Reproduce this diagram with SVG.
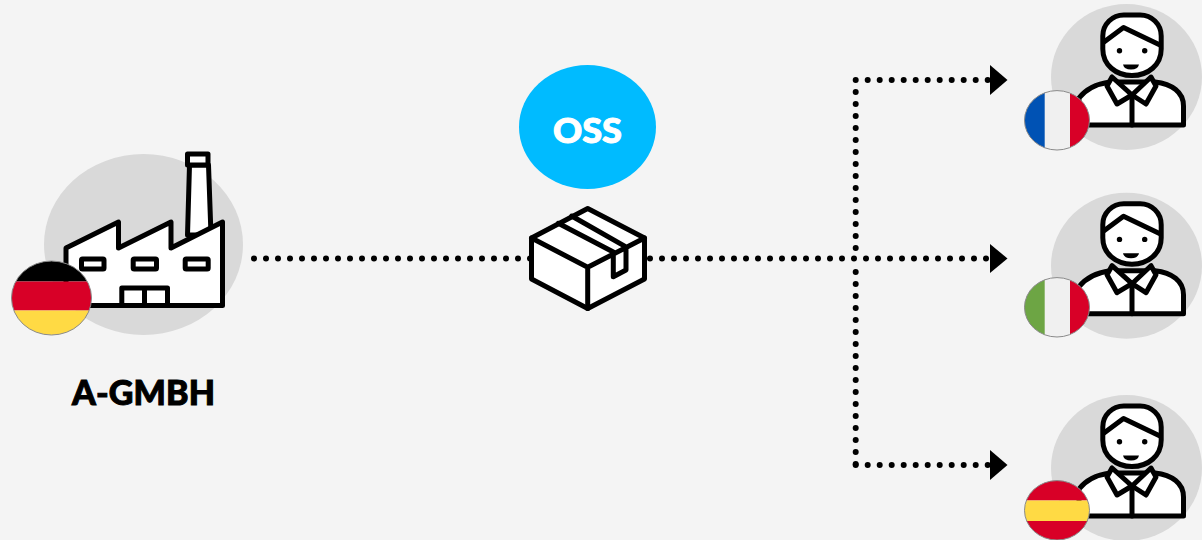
<svg xmlns="http://www.w3.org/2000/svg" width="1202" height="540" viewBox="0 0 1202 540">
<style>
.bg{fill:#d9d9d9}
.ink{fill:#fff;stroke:#000;stroke-width:5;stroke-linejoin:round;stroke-linecap:round}
.line{fill:none;stroke:#000;stroke-width:5;stroke-linejoin:round;stroke-linecap:round}
.dot{fill:none;stroke:#000;stroke-width:6;stroke-linecap:round;stroke-dasharray:0 12}
.ring{fill:none;stroke:#8a8a8a;stroke-width:1}
.lbl{font-family:"Lato","Liberation Sans",sans-serif;font-weight:900;stroke-width:1;paint-order:stroke}
</style>
<defs>
<clipPath id="cg"><ellipse cx="51.5" cy="298" rx="40" ry="37"/></clipPath>
<clipPath id="cf"><ellipse cx="1057" cy="120.3" rx="32.5" ry="29.7"/></clipPath>
<clipPath id="ci"><ellipse cx="1057" cy="307.3" rx="32.5" ry="29.7"/></clipPath>
<clipPath id="ce"><ellipse cx="1057" cy="510.3" rx="32.5" ry="29.7"/></clipPath>
<g id="person">
<ellipse class="bg" cx="1126.5" cy="77" rx="75.5" ry="73"/>
<path class="ink" d="M1079 125V98C1086 89 1096 84 1110 82H1155C1172 84 1183.5 92 1183.5 106V125Z"/>
<path class="line" d="M1132 95V125"/>
<path class="ink" d="M1112 77L1107 86L1117 104L1132 95L1146 104L1156 86L1151 77L1132 95Z"/>
<path class="ink" d="M1102.800 36A21 21 0 0 1 1124 15H1140A21 21 0 0 1 1161.200 36V49C1161.200 65 1148 75.500 1132 75.500C1116 75.500 1102.800 65 1102.800 49Z"/>
<path class="line" d="M1104 42L1123.500 27.500L1160 45"/>
<circle cx="1119.500" cy="50.700" r="2.700"/>
<circle cx="1144.700" cy="50.700" r="2.700"/>
<path d="M1123 64.500H1139Q1138 69.500 1131 69.500Q1124 69.500 1123 64.500Z"/>
</g>
</defs>
<rect width="1202" height="540" fill="#f4f4f4"/>
<g id="connectors">
<path class="dot" d="M254 258.500H987"/>
<path class="dot" d="M855.700 80H988.500"/>
<path class="dot" d="M855.700 92V248.500"/>
<path class="dot" d="M855.700 272V464.500"/>
<path class="dot" d="M855.700 465H988.500"/>
<path d="M990 65L1007.500 80L990 95Z"/>
<path d="M990 244L1007.500 258.500L990 273Z"/>
<path d="M990 450L1007.500 465L990 480Z"/>
</g>
<g id="factory">
<ellipse class="bg" cx="143.500" cy="244.500" rx="99.500" ry="90.500"/>
<path class="ink" d="M189.500 165H208.500L211 235H187.500Z"/>
<rect class="ink" x="187.500" y="154" width="20.500" height="11"/>
<path class="ink" d="M66 248L118.500 222V248L171 222V248L222.500 222V305.500H66Z"/>
<rect class="ink" x="81.500" y="259" width="22.500" height="10" rx="1"/>
<rect class="ink" x="133.200" y="259" width="23.300" height="10" rx="1"/>
<rect class="ink" x="185.200" y="259" width="23" height="10" rx="1"/>
<path class="line" d="M121.800 305.500V288H167.500V305.500M144.500 288V305.500"/>
<g clip-path="url(#cg)">
<rect x="11" y="260" width="81" height="21.500"/>
<rect x="11" y="281.500" width="81" height="29" fill="#d80027"/>
<rect x="11" y="310.500" width="81" height="25" fill="#ffda44"/>
</g>
<ellipse class="ring" cx="51.500" cy="298" rx="40" ry="37"/>
<text class="lbl" x="143.500" y="405" font-size="34" text-anchor="middle" stroke="#000" textLength="143">A-GMBH</text>
</g>
<g id="oss">
<ellipse cx="587.500" cy="127" rx="68.500" ry="62" fill="#00bbff"/>
<text class="lbl" x="587.500" y="143" font-size="35" fill="#fff" stroke="#fff" text-anchor="middle" textLength="69" lengthAdjust="spacingAndGlyphs">OSS</text>
</g>
<g id="box">
<path class="ink" d="M587.700 208.500L644.500 238V279L587.700 308.500L531.500 279V238Z"/>
<path class="line" d="M531.500 238L587.700 267.300L644.500 238M587.700 267.300V308.500M558.300 223.300L613.300 252M571.700 216L625.500 246.700M613.300 252V276.700L626 270V246.700"/>
</g>
<g id="customer-fr">
<use href="#person"/>
<g clip-path="url(#cf)">
<rect x="1024" y="90" width="21" height="61" fill="#0052b4"/>
<rect x="1044.700" y="90" width="25.500" height="61" fill="#f0f0f0"/>
<rect x="1070" y="90" width="20" height="61" fill="#d80027"/>
</g>
<ellipse class="ring" cx="1057" cy="120.300" rx="32.500" ry="29.700"/>
</g>
<g id="customer-it">
<use href="#person" y="188.700"/>
<g clip-path="url(#ci)">
<rect x="1024" y="277" width="21" height="61" fill="#6da544"/>
<rect x="1044.700" y="277" width="25.500" height="61" fill="#f0f0f0"/>
<rect x="1070" y="277" width="20" height="61" fill="#d80027"/>
</g>
<ellipse class="ring" cx="1057" cy="307.300" rx="32.500" ry="29.700"/>
</g>
<g id="customer-es">
<use href="#person" y="391"/>
<g clip-path="url(#ce)">
<rect x="1024" y="480" width="66" height="20.500" fill="#d80027"/>
<rect x="1024" y="500.500" width="66" height="20.500" fill="#ffda44"/>
<rect x="1024" y="521" width="66" height="20" fill="#d80027"/>
</g>
<ellipse class="ring" cx="1057" cy="510.300" rx="32.500" ry="29.700"/>
</g>
</svg>
